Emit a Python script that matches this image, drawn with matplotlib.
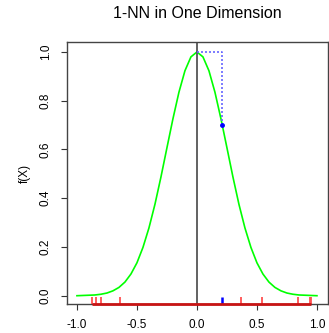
"""1-NN in one dimension: target function, sample points on a rug and the nearest neighbour"""

import matplotlib
matplotlib.use('Agg')
from matplotlib import pyplot as plt

# Curve values
curve_x = [-1.0, -0.95, -0.9, -0.85, -0.8, -0.75, -0.7, -0.65, -0.6, -0.55, -0.5,
           -0.45, -0.4, -0.35, -0.3, -0.25, -0.2, -0.15, -0.1, -0.05, 0.0,
           0.05, 0.1, 0.15, 0.2, 0.25, 0.3, 0.35, 0.4, 0.45, 0.5,
           0.55, 0.6, 0.65, 0.7, 0.75, 0.8, 0.85, 0.9, 0.95, 1.0]
curve_y = [0.000, 0.001, 0.002, 0.003, 0.006, 0.011, 0.020, 0.034, 0.056, 0.089, 0.135,
           0.198, 0.278, 0.375, 0.487, 0.607, 0.726, 0.835, 0.923, 0.980, 1.000,
           0.980, 0.923, 0.835, 0.726, 0.607, 0.487, 0.375, 0.278, 0.198, 0.135,
           0.089, 0.056, 0.034, 0.020, 0.011, 0.006, 0.003, 0.002, 0.001, 0.000]

# Training points (rug) and the nearest neighbour of x0 = 0
train_x = [-0.873, -0.845, -0.80, -0.642, 0.364, 0.539, 0.842, 0.939, 0.95]
nn_x = 0.21
nn_y = 0.70

plt.rcParams['font.family'] = ['Liberation Sans', 'DejaVu Sans']

fig = plt.figure(figsize=(3.29, 3.33), dpi=100)
ax = fig.add_axes([0.2036, 0.0871, 0.7933, 0.7868])

ax.plot(curve_x, curve_y, color='#00FF00', lw=1.2)
ax.axvline(0, color='#555555', lw=1.3)

# dotted path from target to nearest neighbour
ax.plot([0, nn_x, nn_x], [1.0, 1.0, nn_y], color='#6666FF', lw=1.2, ls=(0, (1.2, 1.2)))
ax.plot([nn_x], [nn_y], 'o', color='#0000FF', ms=2.5)

ymin = -0.034
ax.plot([min(train_x), max(train_x)], [ymin, ymin], color='#C81414', lw=2,
        solid_capstyle='butt', clip_on=False, zorder=5)
ax.vlines(train_x, ymin, ymin + 0.028, color='#FF5050', lw=1.3, zorder=4)
ax.vlines([nn_x], ymin, ymin + 0.028, color='#0000FF', lw=1.8, zorder=4)

ax.set_xlim(-1.083, 1.092)
ax.set_ylim(ymin, 1.041)
ax.set_xticks([-1.0, -0.5, 0.0, 0.5, 1.0])
ax.set_xticklabels(['-1.0', '-0.5', '0.0', '0.5', '1.0'])
ax.set_yticks([0.0, 0.2, 0.4, 0.6, 0.8, 1.0])
ax.set_yticklabels(['0.0', '0.2', '0.4', '0.6', '0.8', '1.0'], rotation=90, va='center')
ax.tick_params(axis='both', labelsize=8.5, length=4, width=0.8, color='#333333')
ax.tick_params(axis='x', pad=7)
ax.tick_params(axis='y', pad=7)
for s in ax.spines.values():
    s.set_color('#444444')
    s.set_linewidth(1.0)

ax.set_ylabel('f(X)', fontsize=8.5, labelpad=6)
ax.set_title('1-NN in One Dimension', fontsize=11.5, pad=17)

fig.savefig('out.png', dpi=100)
